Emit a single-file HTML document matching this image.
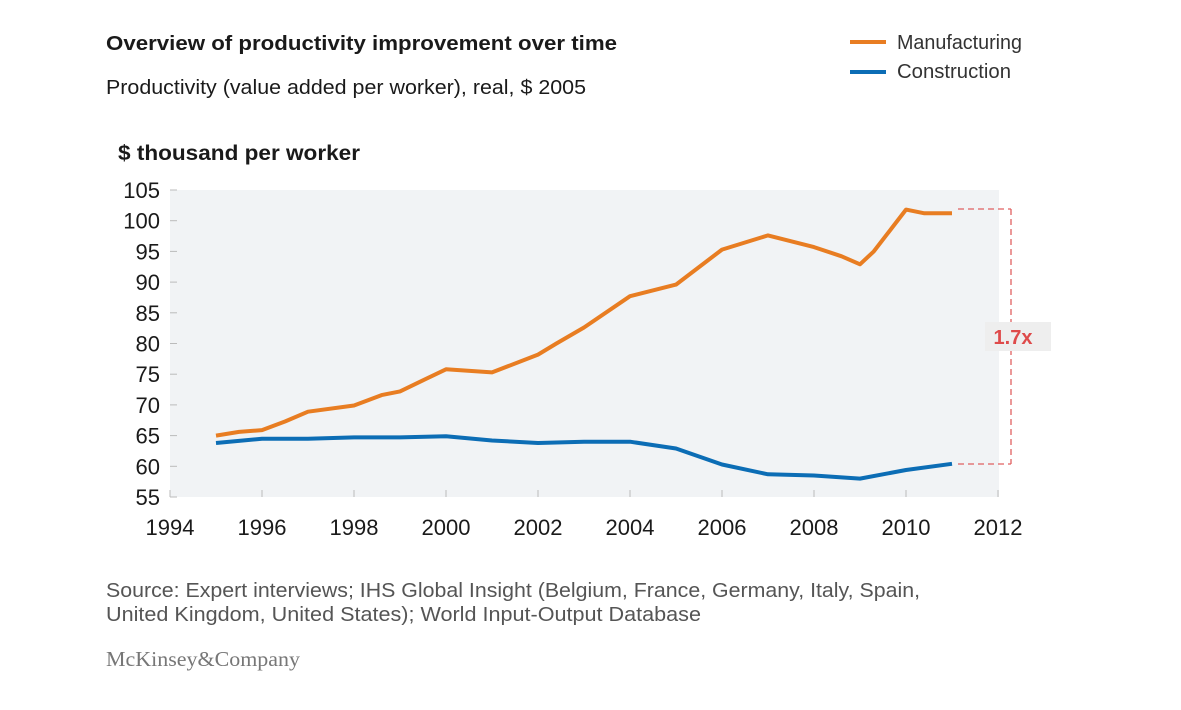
<!DOCTYPE html>
<html><head><meta charset="utf-8"><style>
body{margin:0;background:#fff;width:1181px;height:705px;overflow:hidden;font-family:"Liberation Sans",Arial,sans-serif;}
svg text{font-family:"Liberation Sans",Arial,sans-serif;}
</style></head><body>
<svg width="1181" height="705" xmlns="http://www.w3.org/2000/svg">
<text x="106" y="50" font-size="20" font-weight="bold" fill="#1a1a1a" textLength="511" lengthAdjust="spacingAndGlyphs">Overview of productivity improvement over time</text>
<text x="106" y="94" font-size="20.5" fill="#1a1a1a" textLength="480" lengthAdjust="spacingAndGlyphs">Productivity (value added per worker), real, $ 2005</text>
<line x1="850" y1="42" x2="886" y2="42" stroke="#e87d22" stroke-width="4"/>
<text x="897" y="49" font-size="20" fill="#333" textLength="125" lengthAdjust="spacingAndGlyphs">Manufacturing</text>
<line x1="850" y1="72" x2="886" y2="72" stroke="#0c6db5" stroke-width="4"/>
<text x="897" y="78" font-size="20" fill="#333" textLength="114" lengthAdjust="spacingAndGlyphs">Construction</text>
<text x="118" y="160" font-size="21" font-weight="bold" fill="#1a1a1a" textLength="242" lengthAdjust="spacingAndGlyphs">$ thousand per worker</text>
<rect x="170" y="190" width="829" height="307" fill="#f1f3f5"/>
<g id="yt" font-size="22" fill="#1a1a1a" text-anchor="end"></g>
<g id="xt" font-size="22" fill="#1a1a1a" text-anchor="middle"></g>
<g stroke="#e06060" stroke-width="1.3" stroke-dasharray="6,4" fill="none">
<line x1="958" y1="209" x2="1011" y2="209"/>
<line x1="958" y1="464" x2="1011" y2="464"/>
<line x1="1011" y1="209" x2="1011" y2="464"/>
</g>
<rect x="985" y="322" width="66" height="29" fill="#eeeeee"/>
<text x="1013" y="344" font-size="20" font-weight="bold" fill="#de4a4a" text-anchor="middle">1.7x</text>
<polyline id="man" fill="none" stroke="#e87d22" stroke-width="4" stroke-linejoin="round"/>
<polyline id="con" fill="none" stroke="#0c6db5" stroke-width="4" stroke-linejoin="round"/>
<text x="106" y="597" font-size="20" fill="#555" textLength="814" lengthAdjust="spacingAndGlyphs">Source: Expert interviews; IHS Global Insight (Belgium, France, Germany, Italy, Spain,</text>
<text x="106" y="621" font-size="20" fill="#555" textLength="595" lengthAdjust="spacingAndGlyphs">United Kingdom, United States); World Input-Output Database</text>
<text x="106" y="666" font-size="21" fill="#777" style="font-family:'Liberation Serif',serif" textLength="194" lengthAdjust="spacingAndGlyphs">McKinsey&amp;Company</text>
</svg>
<script>
var X=function(y){return 170+(y-1994)*46},Y=function(v){return 497-(v-55)*6.14};
var ns="http://www.w3.org/2000/svg";
var yt=document.getElementById('yt'),xt=document.getElementById('xt');
for(var v=55;v<=105;v+=5){var t=document.createElementNS(ns,'text');t.setAttribute('x',160);t.setAttribute('y',Y(v)+8);t.textContent=v;yt.appendChild(t);
var l=document.createElementNS(ns,'line');l.setAttribute('x1',170);l.setAttribute('x2',177);l.setAttribute('y1',Y(v));l.setAttribute('y2',Y(v));l.setAttribute('stroke','#bbb');yt.appendChild(l);}
for(var y=1994;y<=2012;y+=2){var t=document.createElementNS(ns,'text');t.setAttribute('x',X(y));t.setAttribute('y',535);t.textContent=y;xt.appendChild(t);
var l=document.createElementNS(ns,'line');l.setAttribute('x1',X(y));l.setAttribute('x2',X(y));l.setAttribute('y1',490);l.setAttribute('y2',497);l.setAttribute('stroke','#bbb');xt.appendChild(l);}
var m=[[1995,65],[1995.5,65.6],[1996,65.9],[1996.5,67.3],[1997,68.9],[1998,69.9],[1998.6,71.6],[1999,72.2],[1999.5,74],[2000,75.8],[2001,75.3],[2002,78.2],[2002.4,80],[2003,82.6],[2004,87.7],[2005,89.6],[2006,95.3],[2007,97.6],[2008,95.7],[2008.6,94.2],[2009,92.9],[2009.3,95],[2010,101.8],[2010.4,101.2],[2011,101.2]];
var c=[[1995,63.8],[1996,64.5],[1997,64.5],[1998,64.7],[1999,64.7],[2000,64.9],[2001,64.2],[2002,63.8],[2003,64],[2004,64],[2005,62.9],[2006,60.3],[2007,58.7],[2008,58.5],[2009,58],[2010,59.4],[2011,60.4]];
function p(a){return a.map(function(q){return X(q[0]).toFixed(1)+','+Y(q[1]).toFixed(1)}).join(' ')}
document.getElementById('man').setAttribute('points',p(m));
document.getElementById('con').setAttribute('points',p(c));
</script>
</body></html>
